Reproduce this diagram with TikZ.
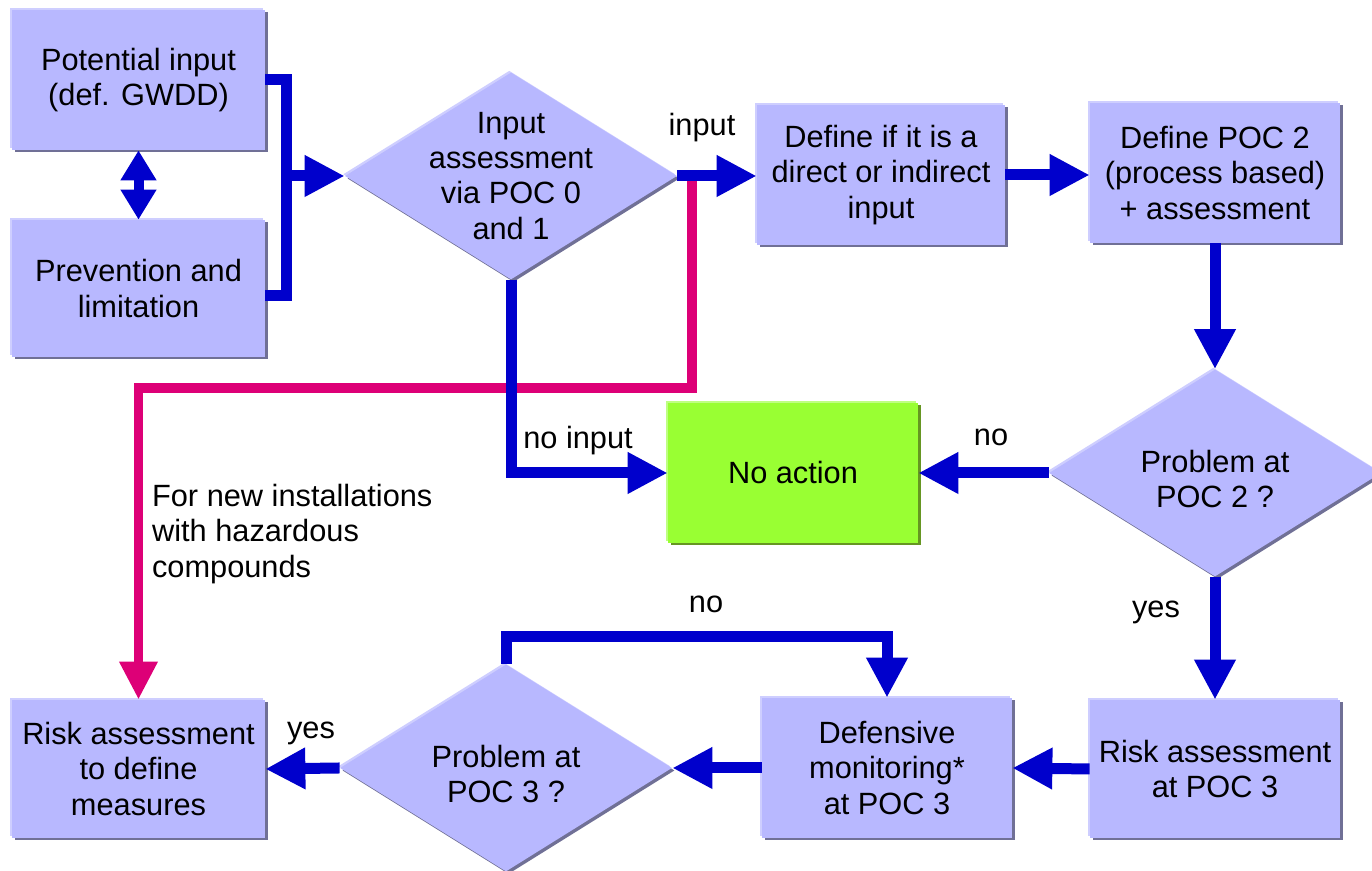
\documentclass[tikz,border=0pt]{standalone}
\usepackage{fontspec}
\setmainfont{Liberation Sans}
\usepackage{tikz}
\usetikzlibrary{arrows.meta, shapes.geometric, shadows, positioning, calc}
\usepackage{xcolor}
\definecolor{boxfill}{RGB}{184,184,255}
\definecolor{boxshade}{RGB}{112,112,150}
\definecolor{boxlight}{RGB}{206,206,255}
\definecolor{noactgreen}{RGB}{153,255,51}
\definecolor{noactshade}{RGB}{102,150,34}
\definecolor{noactlight}{RGB}{190,255,130}
\definecolor{flowblue}{RGB}{0,0,204}
\definecolor{hazpink}{RGB}{221,0,119}

\begin{document}
\begin{tikzpicture}[
  font=\fontsize{17.5}{20}\selectfont,
  stepbox/.style={rectangle, fill=boxfill, minimum width=5cm, minimum height=2.8cm,
    align=center, inner sep=1pt,
    copy shadow={shadow xshift=0.05cm, shadow yshift=-0.05cm, fill=boxshade, draw=none},
    copy shadow={shadow xshift=-0.035cm, shadow yshift=0.035cm, fill=boxlight, draw=none}},
  greenbox/.style={rectangle, fill=noactgreen, minimum width=5cm, minimum height=2.8cm,
    align=center, inner sep=1pt,
    copy shadow={shadow xshift=0.05cm, shadow yshift=-0.05cm, fill=noactshade, draw=none},
    copy shadow={shadow xshift=-0.035cm, shadow yshift=0.035cm, fill=noactlight, draw=none}},
  decision/.style={diamond, fill=boxfill, minimum width=6.64cm, minimum height=4.14cm,
    inner sep=0pt,
    copy shadow={shadow xshift=0.05cm, shadow yshift=-0.05cm, fill=boxshade, draw=none},
    copy shadow={shadow xshift=-0.035cm, shadow yshift=0.035cm, fill=boxlight, draw=none}},
  flow/.style={draw=flowblue, line width=0.22cm, -{Triangle[length=0.8cm, width=0.78cm]}},
  flowline/.style={draw=flowblue, line width=0.22cm},
  dbl/.style={draw=flowblue, line width=0.2cm,
    {Triangle[length=0.6cm, width=0.68cm]}-{Triangle[length=0.6cm, width=0.68cm]}},
  hazard/.style={draw=hazpink, line width=0.19cm, -{Triangle[length=0.76cm, width=0.72cm]}},
  lbl/.style={inner sep=1pt}
]
\useasboundingbox (0,0) rectangle (27.44,17.42);

% boxes and decisions
\node[stepbox, minimum width=5.06cm] (pot) at (2.77,15.82) {Potential input\\(def. GWDD)};
\node[stepbox, minimum width=5.06cm, minimum height=2.74cm] (prev) at (2.77,11.65) {Prevention and\\limitation};
\node[decision, label={[align=center]center:{Input\\assessment\\via POC 0\\and 1}}] (inass) at (10.22,13.9) {};
\node[stepbox, minimum width=4.96cm] (define) at (17.62,13.92) {Define if it is a\\direct or indirect\\input};
\node[stepbox] (poc2) at (24.3,13.96) {Define POC 2\\(process based)\\+ assessment};
\node[decision, label={[align=center, yshift=-0.12cm]center:{Problem at\\POC 2 ?}}] (prob2) at (24.3,7.96) {};
\node[greenbox] (noact) at (15.86,7.96) {No action};
\node[stepbox, minimum height=2.76cm] (ra3) at (24.3,2.04) {Risk assessment\\at POC 3};
\node[stepbox] (defm) at (17.74,2.06) {Defensive\\monitoring*\\at POC 3};
\node[decision, label={[align=center, yshift=-0.12cm]center:{Problem at\\POC 3 ?}}] (prob3) at (10.12,2.06) {};
\node[stepbox, minimum width=5.06cm, minimum height=2.76cm] (rad) at (2.77,2.04) {Risk assessment\\to define\\measures};

\coordinate (brk) at (5.72,13.9);
\coordinate (hz) at (13.84,13.84);
\coordinate (hzturn) at (13.84,9.66);

% new installations route
\draw[hazard] (hz) -- (hzturn) -| (rad.north);

% flows
\draw[dbl] (pot.south) -- (prev.north);
\draw[flowline] (pot.east) -| (brk) |- ($(prev.east)+(0,-0.14)$);
\draw[flow] (brk) -- (inass.west);
\draw[flow] (inass.east) -- (inass.east -| define.west);
\draw[flow] (define.east) -- (define.east -| poc2.west);
\draw[flow] (poc2.south) -- (prob2.north);
\draw[flow] (prob2.west) -- (noact.east);
\draw[flow] (inass.south) |- (noact.west);
\draw[flow] (prob2.south) -- (ra3.north);
\draw[flow] (ra3.west) -- (defm.east);
\draw[flow] (defm.west) -- (prob3.east);
\draw[flow] (prob3.north) -- ++(0,0.56) -| (defm.north);
\draw[flow] (prob3.west) -- (rad.east);

% labels
\node[lbl] (t-input) at (14.04,14.86) {input};
\node[lbl] (t-noinput) at (11.56,8.6) {no input};
\node[lbl] (t-no2) at (19.82,8.68) {no};
\node[lbl] (t-yes2) at (23.12,5.18) {yes};
\node[lbl] (t-no3) at (14.12,5.34) {no};
\node[lbl] (t-yes3) at (6.22,2.76) {yes};
\node[lbl, anchor=west, align=left] (t-new) at (3.0,6.74) {For new installations\\with hazardous\\compounds};
\end{tikzpicture}
\end{document}
